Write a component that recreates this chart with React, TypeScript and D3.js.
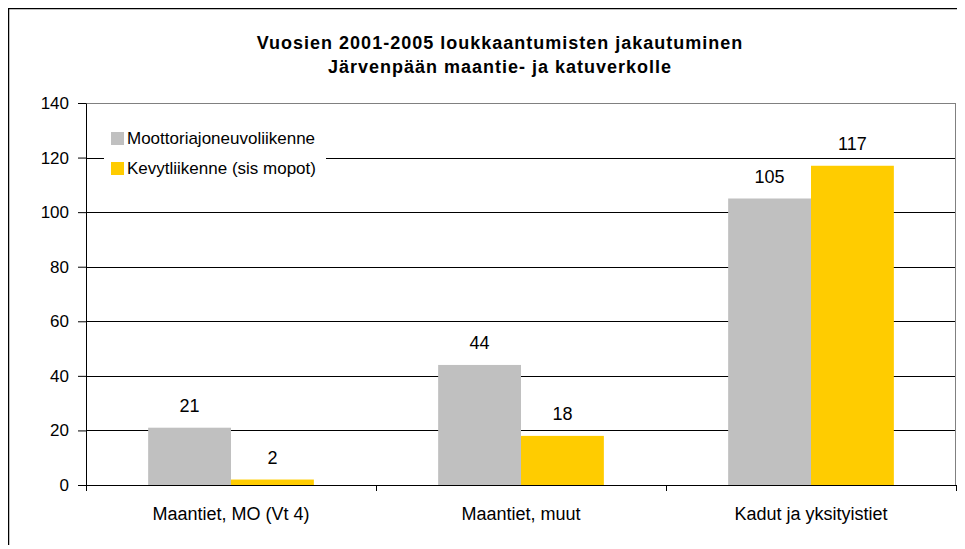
import React, { useEffect, useRef } from "react";
import * as d3 from "d3";

const categories = ["Maantiet, MO (Vt 4)", "Maantiet, muut", "Kadut ja yksityistiet"];
const seriesNames = ["Moottoriajoneuvoliikenne", "Kevytliikenne (sis mopot)"];
const motorValues = [21, 44, 105];
const lightValues = [2, 18, 117];
const colors = ["#C0C0C0", "#FFCC00"];
const yTicks = [0, 20, 40, 60, 80, 100, 120, 140];
const titleLines = ["Vuosien 2001-2005 loukkaantumisten jakautuminen", "Järvenpään maantie- ja katuverkolle"];

const App = () => {
  const ref = useRef<SVGSVGElement | null>(null);

  useEffect(() => {
    const W = 965, H = 549;
    const margin = { top: 103, right: 9, bottom: 64, left: 86 };
    const width = W - margin.left - margin.right;
    const height = H - margin.top - margin.bottom;
    const font = "'Liberation Sans', Arial, sans-serif";

    const svg = d3.select(ref.current);
    svg.selectAll("*").remove();
    svg.attr("width", W).attr("height", H);

    svg.append("rect").attr("width", W).attr("height", H).attr("fill", "#fff");
    // outer frame
    svg.append("rect")
      .attr("x", 8.5).attr("y", 8.5).attr("width", 990).attr("height", 600)
      .attr("fill", "none").attr("stroke", "#000").attr("stroke-width", 1.5);

    svg.append("g")
      .selectAll("text")
      .data(titleLines)
      .join("text")
      .attr("x", 500)
      .attr("y", (d, i) => 49 + i * 24)
      .attr("text-anchor", "middle")
      .style("font-family", font)
      .style("font-weight", "bold")
      .style("font-size", "18px")
      .style("letter-spacing", "1px")
      .text((d) => d);

    const g = svg.append("g").attr("transform", `translate(${margin.left}, ${margin.top})`);

    const x = d3.scaleBand().domain(categories).range([0, width]).paddingInner(0).paddingOuter(0);
    const y = d3.scaleLinear().domain([0, 140]).range([height, 0]);
    const groupPad = x.bandwidth() * 0.75 / (2 + 0.75 * 2) ;
    const x1 = d3.scaleBand().domain(["0", "1"])
      .range([groupPad * 1, x.bandwidth() - groupPad * 1]);

    // gridlines
    g.append("g")
      .selectAll("line")
      .data(yTicks.filter((t) => t > 0 && t < 140))
      .join("line")
      .attr("x1", 0).attr("x2", width)
      .attr("y1", (d) => Math.round(y(d)) + 0.5).attr("y2", (d) => Math.round(y(d)) + 0.5)
      .attr("stroke", "#000");

    // plot border
    g.append("rect")
      .attr("x", 0.5).attr("y", 0.5).attr("width", width - 1).attr("height", height)
      .attr("fill", "none").attr("stroke", "#808080");

    const series = [motorValues, lightValues];
    series.forEach((vals, si) => {
      g.append("g")
        .selectAll("rect")
        .data(vals)
        .join("rect")
        .attr("x", (d, i) => (x(categories[i]) as number) + (x1(String(si)) as number))
        .attr("y", (d) => y(d))
        .attr("width", x1.bandwidth())
        .attr("height", (d) => height - y(d))
        .attr("fill", colors[si]);
      g.append("g")
        .selectAll("text")
        .data(vals)
        .join("text")
        .attr("x", (d, i) => (x(categories[i]) as number) + (x1(String(si)) as number) + x1.bandwidth() / 2)
        .attr("y", (d) => y(d) - 16)
        .attr("text-anchor", "middle")
        .style("font-family", font)
        .style("font-size", "18px")
        .text((d) => d);
    });

    // y axis
    const yAxis = g.append("g")
      .call(d3.axisLeft(y).tickValues(yTicks).tickSize(8).tickPadding(9).tickSizeOuter(0));
    yAxis.select(".domain").attr("stroke", "#000");
    yAxis.selectAll(".tick line").attr("stroke", "#000");
    yAxis.selectAll("text").style("font-family", font).style("font-size", "17px").attr("fill", "#000");

    // x axis
    const xAxis = g.append("g").attr("transform", `translate(0, ${height})`);
    xAxis.append("line").attr("x1", 0).attr("x2", width).attr("y1", 0.5).attr("y2", 0.5).attr("stroke", "#000");
    xAxis.selectAll(".cat-tick")
      .data([0, ...categories.map((c) => (x(c) as number) + x.bandwidth())])
      .join("line")
      .attr("x1", (d) => Math.round(d) + 0.5).attr("x2", (d) => Math.round(d) + 0.5)
      .attr("y1", 0).attr("y2", 6)
      .attr("stroke", "#000");
    xAxis.selectAll(".cat-label")
      .data(categories)
      .join("text")
      .attr("x", (d) => (x(d) as number) + x.bandwidth() / 2)
      .attr("y", 35)
      .attr("text-anchor", "middle")
      .style("font-family", font)
      .style("font-size", "18px")
      .text((d) => d);

    // legend
    const legend = g.append("g").attr("transform", "translate(18, 17)");
    legend.append("rect").attr("x", 0).attr("y", 0).attr("width", 222).attr("height", 70).attr("fill", "#fff");
    legend.selectAll("rect.sw")
      .data(seriesNames)
      .join("rect")
      .attr("class", "sw")
      .attr("x", 7).attr("y", (d, i) => 12 + i * 30)
      .attr("width", 13).attr("height", 13)
      .attr("fill", (d, i) => colors[i]);
    legend.selectAll("text")
      .data(seriesNames)
      .join("text")
      .attr("x", 23).attr("y", (d, i) => 24 + i * 30)
      .style("font-family", font)
      .style("font-size", "17px")
      .text((d) => d);
  }, []);

  return (
    <div style={{ margin: -8 }}>
      <svg ref={ref}></svg>
    </div>
  );
};

export default App;
